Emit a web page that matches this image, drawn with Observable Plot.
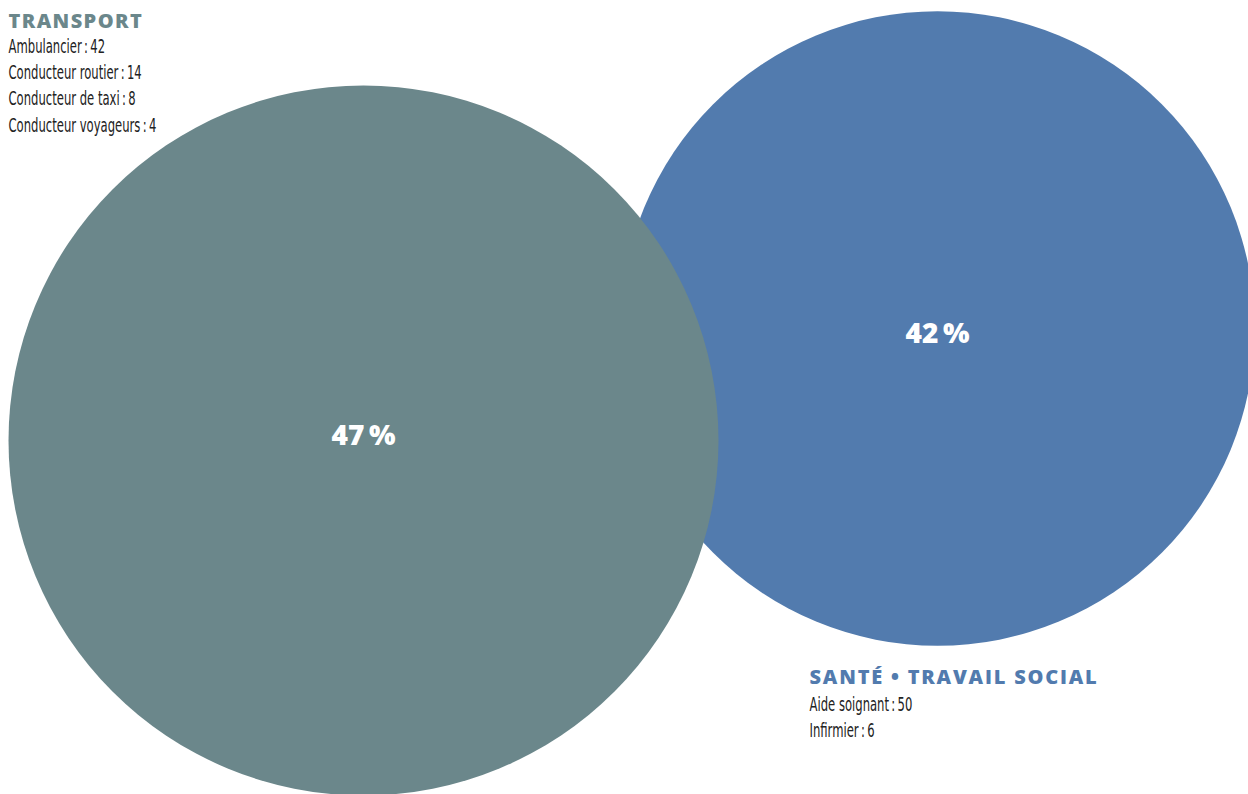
<!DOCTYPE html>
<html>
<head>
<meta charset="utf-8">
<script src="https://cdn.jsdelivr.net/npm/d3@7"></script>
<script src="https://cdn.jsdelivr.net/npm/@observablehq/plot@0.6"></script>
<style>
  html, body { margin: 0; padding: 0; background: #fff; }
  #chart svg { display: block; }
</style>
</head>
<body>
<div id="chart"></div>
<script>
// ---- data ----
const categories = ["TRANSPORT", "SANTÉ • TRAVAIL SOCIAL"];
const shares = [47, 42];
const transportJobs = ["Ambulancier", "Conducteur routier", "Conducteur de taxi", "Conducteur voyageurs"];
const transportCounts = [42, 14, 8, 4];
const santeJobs = ["Aide soignant", "Infirmier"];
const santeCounts = [50, 6];

// ---- layout / style ----
const colors = {"TRANSPORT": "#6b878b", "SANTÉ • TRAVAIL SOCIAL": "#527bae"};
const layout = {
  "TRANSPORT": {cx: 363, cy: 440, pdy: -4, lx: 8, hy: 13, ly: 33.5},
  "SANTÉ • TRAVAIL SOCIAL": {cx: 937, cy: 328, pdy: 6, lx: 809, hy: 669, ly: 691.5}
};
const table = categories.map((c, i) => ({category: c, share: shares[i]}));
const lists = {
  "TRANSPORT": transportJobs.map((j, i) => `${j}\u2009:\u2009${transportCounts[i]}`).join("\n"),
  "SANTÉ • TRAVAIL SOCIAL": santeJobs.map((j, i) => `${j}\u2009:\u2009${santeCounts[i]}`).join("\n")
};

const headFont = "'Open Sans', 'DejaVu Sans', sans-serif";
const bodyFont = "'DejaVu Sans Condensed', 'DejaVu Sans', sans-serif";
const bodySize = 19;

const marks = [];
// draw blue first, grey on top
for (const c of [categories[1], categories[0]]) {
  const L = layout[c];
  const d = table.filter(t => t.category === c);
  marks.push(Plot.dot(d, {
    x: null, y: null, frameAnchor: "top-left", dx: L.cx, dy: L.cy,
    r: "share", fill: colors[c], stroke: "none"
  }));
  marks.push(Plot.text(d, {
    x: null, y: null, frameAnchor: "top-left", dx: L.cx, dy: L.cy + L.pdy,
    text: t => `${t.share}\u2009%`, fill: "white", fontSize: 28, fontWeight: 800,
    fontFamily: headFont, textAnchor: "middle", lineAnchor: "middle"
  }));
}
for (const c of categories) {
  const L = layout[c];
  const d = table.filter(t => t.category === c);
  marks.push(Plot.text(d, {
    x: null, y: null, frameAnchor: "top-left", dx: L.lx, dy: L.hy,
    text: "category", fill: colors[c], fontSize: 20, fontWeight: 800,
    fontFamily: headFont, textAnchor: "start", lineAnchor: "top"
  }));
  marks.push(Plot.text(d, {
    x: null, y: null, frameAnchor: "top-left", dx: L.lx, dy: L.ly,
    text: t => lists[t.category], fill: "#222", fontSize: bodySize, lineHeight: 26.3 / bodySize,
    fontFamily: bodyFont, textAnchor: "start", lineAnchor: "top"
  }));
}

const chart = Plot.plot({
  width: 1248,
  height: 794,
  margin: 0,
  x: {axis: null},
  y: {axis: null},
  r: {type: "linear", domain: [0, 47], range: [0, 355]},
  style: {background: "white", overflow: "hidden"},
  marks
});
document.getElementById("chart").appendChild(chart);
// heading tracking and condensed body text
chart.querySelectorAll("text").forEach(t => {
  const s = t.textContent;
  if (categories.includes(s)) {
    t.setAttribute("letter-spacing", s === categories[0] ? "1.4" : "1.8");
  } else if (s.includes(":")) {
    t.setAttribute("transform", (t.getAttribute("transform") || "") + " scale(0.68,1)");
  }
});
</script>
</body>
</html>
